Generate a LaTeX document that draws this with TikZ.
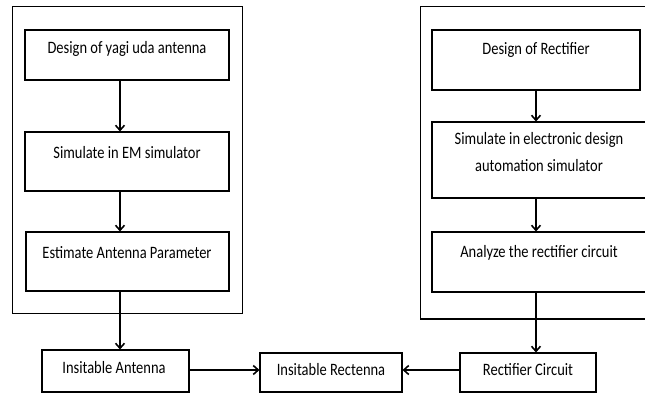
\documentclass[tikz,border=0pt]{standalone}
\usepackage{fontspec}
\usepackage{graphicx}
\setmainfont{Carlito}
\usetikzlibrary{arrows.meta}
\newcommand\tallt[1]{\scalebox{1}[1.2]{#1}}
\begin{document}
\begin{tikzpicture}[x=1pt,y=-1pt,
  frame/.style={draw,line width=1pt},
  box/.style={draw,line width=1.1pt,rectangle,inner sep=0pt},
  txt/.style={inner sep=0pt,font=\fontsize{14.5}{27}\selectfont,align=center},
  arr/.style={line width=1.8pt,-{Straight Barb[length=5pt,width=9pt,line width=1.6pt]}}]
\clip (0,0) rectangle (645,394);
\useasboundingbox (0,0) rectangle (645,394);
% frames
\draw[frame] (12,6) rectangle (242,313);
\draw[frame] (420,6) rectangle (660,319);
\draw[line width=1.6pt] (420,319) -- (660,319);
% left column
\node[box,minimum width=204pt,minimum height=50pt] (b1) at (127,55) {};
\node[box,minimum width=204pt,minimum height=59pt] (b2) at (127,161.5) {};
\node[box,minimum width=203pt,minimum height=59pt] (b3) at (127.5,261.5) {};
\node[txt] (t1) at (127,49) {\tallt{Design of yagi uda antenna}};
\node[txt] (t2) at (127,153) {\tallt{Simulate in EM simulator}};
\node[txt] (t3) at (127,253) {\tallt{Estimate Antenna Parameter}};
% right column
\node[box,minimum width=208pt,minimum height=60pt] (r1) at (536,60) {};
\node[box,minimum width=224pt,minimum height=76pt] (r2) at (544,160) {};
\node[box,minimum width=224pt,minimum height=60pt] (r3) at (544,262) {};
\node[txt] (s1) at (536,50) {\tallt{Design of Rectifier}};
\node[txt] (s2) at (539,152.5) {\tallt{Simulate in electronic design}\\\tallt{automation simulator}};
\node[txt] (s3) at (539,253) {\tallt{Analyze the rectifier circuit}};
% bottom row
\node[box,minimum width=147pt,minimum height=42pt] (ant) at (115.5,371) {};
\node[box,minimum width=142pt,minimum height=39pt] (rec) at (331,372.5) {};
\node[box,minimum width=136pt,minimum height=39pt] (rc) at (528,372.5) {};
\node[txt] (ta) at (114,368) {\tallt{Insitable Antenna}};
\node[txt] (tr) at (331,370) {\tallt{Insitable Rectenna}};
\node[txt] (tc) at (528,370) {\tallt{Rectifier Circuit}};
% column lines
\coordinate (cL) at (120,0);
\coordinate (cR) at (536,0);
\coordinate (hRow) at (0,370);
% arrows
\draw[arr] (b1.south -| cL) -- (b2.north -| cL);
\draw[arr] (b2.south -| cL) -- (b3.north -| cL);
\draw[arr] (b3.south -| cL) -- (ant.north -| cL);
\draw[arr] (r1.south -| cR) -- (r2.north -| cR);
\draw[arr] (r2.south -| cR) -- (r3.north -| cR);
\draw[arr] (r3.south -| cR) -- (rc.north -| cR);
\draw[arr] (hRow -| ant.east) -- (hRow -| rec.west);
\draw[arr] (hRow -| rc.west) -- (hRow -| rec.east);
\end{tikzpicture}
\end{document}
